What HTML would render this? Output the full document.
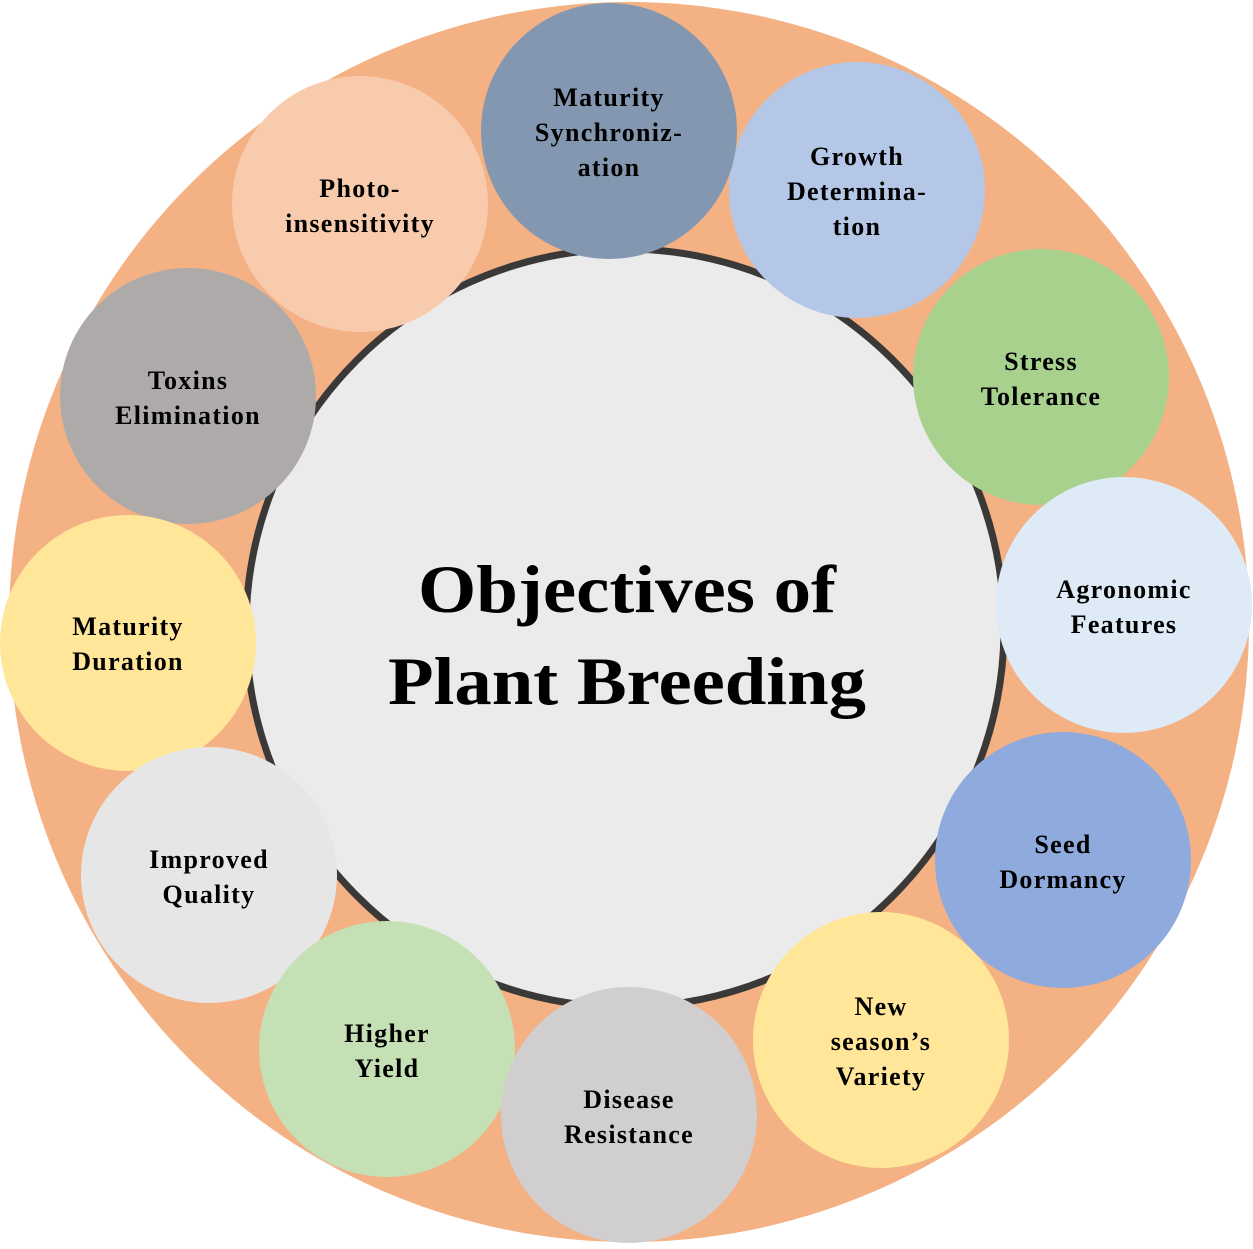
<!DOCTYPE html>
<html><head><meta charset="utf-8"><style>
html,body{margin:0;padding:0;background:#fff;}
svg text{font-family:"Liberation Serif",serif;font-weight:bold;fill:#000;text-anchor:middle;}
g text{font-size:26px;letter-spacing:1.3px;}
</style></head><body>
<svg width="1253" height="1244" viewBox="0 0 1253 1244" xmlns="http://www.w3.org/2000/svg">
<circle cx="629" cy="622" r="620" fill="#F4B183"/>
<circle cx="625" cy="628" r="379" fill="#EBEBEB" stroke="#3B3838" stroke-width="7"/>
<text x="627" y="612" font-size="68" textLength="418" lengthAdjust="spacingAndGlyphs">Objectives of</text>
<text x="627" y="704" font-size="68" textLength="478" lengthAdjust="spacingAndGlyphs">Plant Breeding</text>
<g>
<circle cx="360" cy="204" r="128" fill="#F8CBAD"/>
<text x="360" y="197">Photo-</text><text x="360" y="232">insensitivity</text>
<circle cx="188" cy="396" r="128" fill="#AEAAAA"/>
<text x="188" y="389">Toxins</text><text x="188" y="424">Elimination</text>
<circle cx="128" cy="643" r="128" fill="#FFE699"/>
<text x="128" y="635">Maturity</text><text x="128" y="670">Duration</text>
<circle cx="209" cy="875" r="128" fill="#E7E6E6"/>
<text x="209" y="868">Improved</text><text x="209" y="903">Quality</text>
<circle cx="387" cy="1049" r="128" fill="#C5E0B4"/>
<text x="387" y="1042">Higher</text><text x="387" y="1077">Yield</text>
<circle cx="857" cy="190" r="128" fill="#B4C7E7"/>
<text x="857" y="165">Growth</text><text x="857" y="200">Determina-</text><text x="857" y="235">tion</text>
<circle cx="609" cy="131" r="128" fill="#8497B0"/>
<text x="609" y="106">Maturity</text><text x="609" y="141">Synchroniz-</text><text x="609" y="176">ation</text>
<circle cx="1041" cy="377" r="128" fill="#A9D18E"/>
<text x="1041" y="370">Stress</text><text x="1041" y="405">Tolerance</text>
<circle cx="1124" cy="605" r="128" fill="#DEEBF7"/>
<text x="1124" y="598">Agronomic</text><text x="1124" y="633">Features</text>
<circle cx="1063" cy="860" r="128" fill="#8FAADC"/>
<text x="1063" y="853">Seed</text><text x="1063" y="888">Dormancy</text>
<circle cx="881" cy="1040" r="128" fill="#FFE699"/>
<text x="881" y="1015">New</text><text x="881" y="1050">season’s</text><text x="881" y="1085">Variety</text>
<circle cx="629" cy="1115" r="128" fill="#D0CECE"/>
<text x="629" y="1108">Disease</text><text x="629" y="1143">Resistance</text>
</g>
</svg>
</body></html>
